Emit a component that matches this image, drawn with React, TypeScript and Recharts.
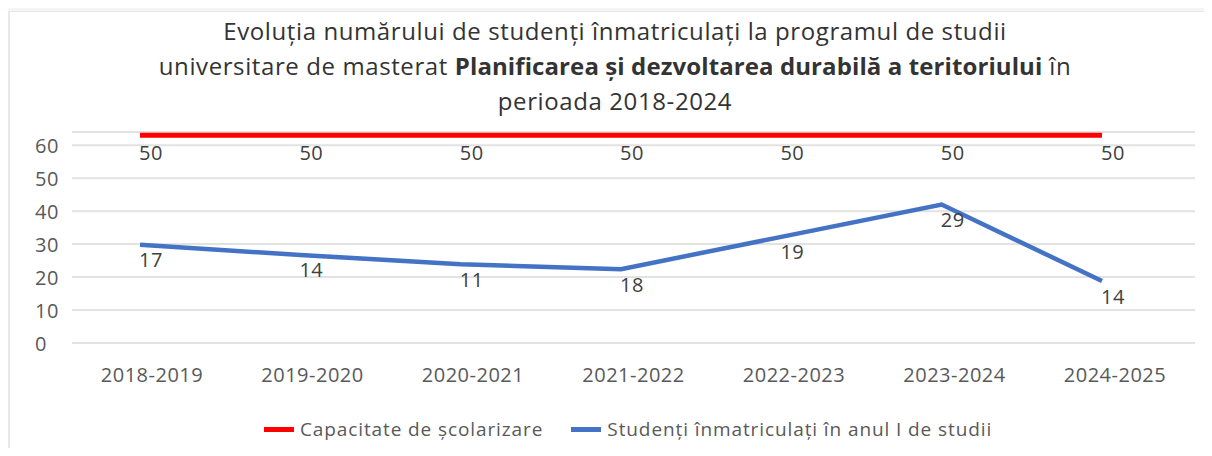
import React from 'react';
import { LineChart, Line, XAxis, YAxis, CartesianGrid, Legend, LabelList } from 'recharts';

const categories = ['2018-2019', '2019-2020', '2020-2021', '2021-2022', '2022-2023', '2023-2024', '2024-2025'];
const capacityPlotted = [63, 63, 63, 63, 63, 63, 63];
const capacityLabels = [50, 50, 50, 50, 50, 50, 50];
const enrolledPlotted = [29.8, 26.7, 23.9, 22.4, 32.2, 42, 18.8];
const enrolledLabels = [17, 14, 11, 18, 19, 29, 14];
const yTicks = [0, 10, 20, 30, 40, 50, 60];
const seriesNames = ['Capacitate de școlarizare', 'Studenți înmatriculați în anul I de studii'];

const data = categories.map((c, i) => ({
  year: c,
  capacity: capacityPlotted[i],
  capacityLabel: capacityLabels[i],
  enrolled: enrolledPlotted[i],
  enrolledLabel: enrolledLabels[i],
}));

const FONT = '"Open Sans", "Noto Sans", sans-serif';
const TEXT = '#595959';
const RED = '#FF0000';
const BLUE = '#4472C4';

const YTick = (props: any) => {
  const { y, payload } = props;
  return (
    <text x={35} y={y} textAnchor="start" dominantBaseline="central" fill={TEXT} fontSize={20} letterSpacing={0.5} fontFamily={FONT}>
      {payload.value}
    </text>
  );
};

const XTick = (props: any) => {
  const { x, y, payload } = props;
  return (
    <text x={x} y={y + 31} textAnchor="middle" dominantBaseline="central" fill={TEXT} fontSize={20} letterSpacing={0.5} fontFamily={FONT}>
      {payload.value}
    </text>
  );
};

const makeLabel = (dy: number) => (props: any) => {
  const { x, y, value } = props;
  return (
    <text x={x + 11} y={y + dy} textAnchor="middle" dominantBaseline="central" fill="#404040" fontSize={20} letterSpacing={0.5} fontFamily={FONT}>
      {value}
    </text>
  );
};

const LegendContent = () => (
  <div style={{ display: 'flex', justifyContent: 'center', alignItems: 'center', fontFamily: FONT, fontSize: 19, letterSpacing: 0.9, color: TEXT, width: 1236 }}>
    <div style={{ display: 'flex', alignItems: 'center', marginRight: 28 }}>
      <span style={{ display: 'inline-block', width: 30, height: 5, background: RED, marginRight: 6 }} />
      <span>{seriesNames[0]}</span>
    </div>
    <div style={{ display: 'flex', alignItems: 'center' }}>
      <span style={{ display: 'inline-block', width: 30, height: 5, background: BLUE, marginRight: 6 }} />
      <span>{seriesNames[1]}</span>
    </div>
  </div>
);

export default function App() {
  return (
    <div style={{ position: 'relative', width: 1212, height: 456, margin: -8, background: '#f4f5f9', overflow: 'hidden' }}>
      <div style={{ position: 'absolute', left: 8, top: 11, width: 1204, height: 445, background: '#ffffff', borderLeft: '2px solid #e8e8e8', borderTop: '1px solid #e6e6e6', boxSizing: 'border-box' }} />
      <div style={{ position: 'absolute', left: 0, top: 13, width: 1230, textAlign: 'center', fontFamily: FONT, fontSize: 24, letterSpacing: 0.6, lineHeight: '35px', color: '#333333' }}>
        <div>Evoluția numărului de studenți înmatriculați la programul de studii</div>
        <div>universitare de masterat <b style={{ letterSpacing: 0.1 }}>Planificarea și dezvoltarea durabilă a teritoriului</b> în</div>
        <div>perioada 2018-2024</div>
      </div>
      <div style={{ position: 'absolute', left: 0, top: 0 }}>
        <LineChart width={1212} height={456} data={data} margin={{ top: 132, right: 17, bottom: 13, left: 8 }}>
          <CartesianGrid horizontal vertical={false} stroke="#e2e2e2" strokeWidth={2} xAxisId="cat" />
          <XAxis xAxisId="cat" dataKey="year" padding={{ left: 80, right: 80 }} axisLine={false} tickLine={false} tickSize={0} tickMargin={0} height={40} tick={<XTick />} interval={0} />
          <XAxis xAxisId="pts" dataKey="year" hide padding={{ left: 68, right: 93 }} />
          <YAxis domain={[0, 64]} ticks={yTicks} width={64} axisLine={false} tickLine={false} tick={<YTick />} interval={0} />
          <Legend verticalAlign="bottom" height={60} content={<LegendContent />} wrapperStyle={{ position: 'absolute', left: 10, top: 416, width: 1236 }} />
          <Line xAxisId="pts" type="linear" dataKey="capacity" name={seriesNames[0]} stroke={RED} strokeWidth={5} dot={false} isAnimationActive={false}>
            <LabelList dataKey="capacityLabel" content={makeLabel(17)} />
          </Line>
          <Line xAxisId="pts" type="linear" dataKey="enrolled" name={seriesNames[1]} stroke={BLUE} strokeWidth={4.5} dot={false} isAnimationActive={false}>
            <LabelList dataKey="enrolledLabel" content={makeLabel(15)} />
          </Line>
        </LineChart>
      </div>
    </div>
  );
}
